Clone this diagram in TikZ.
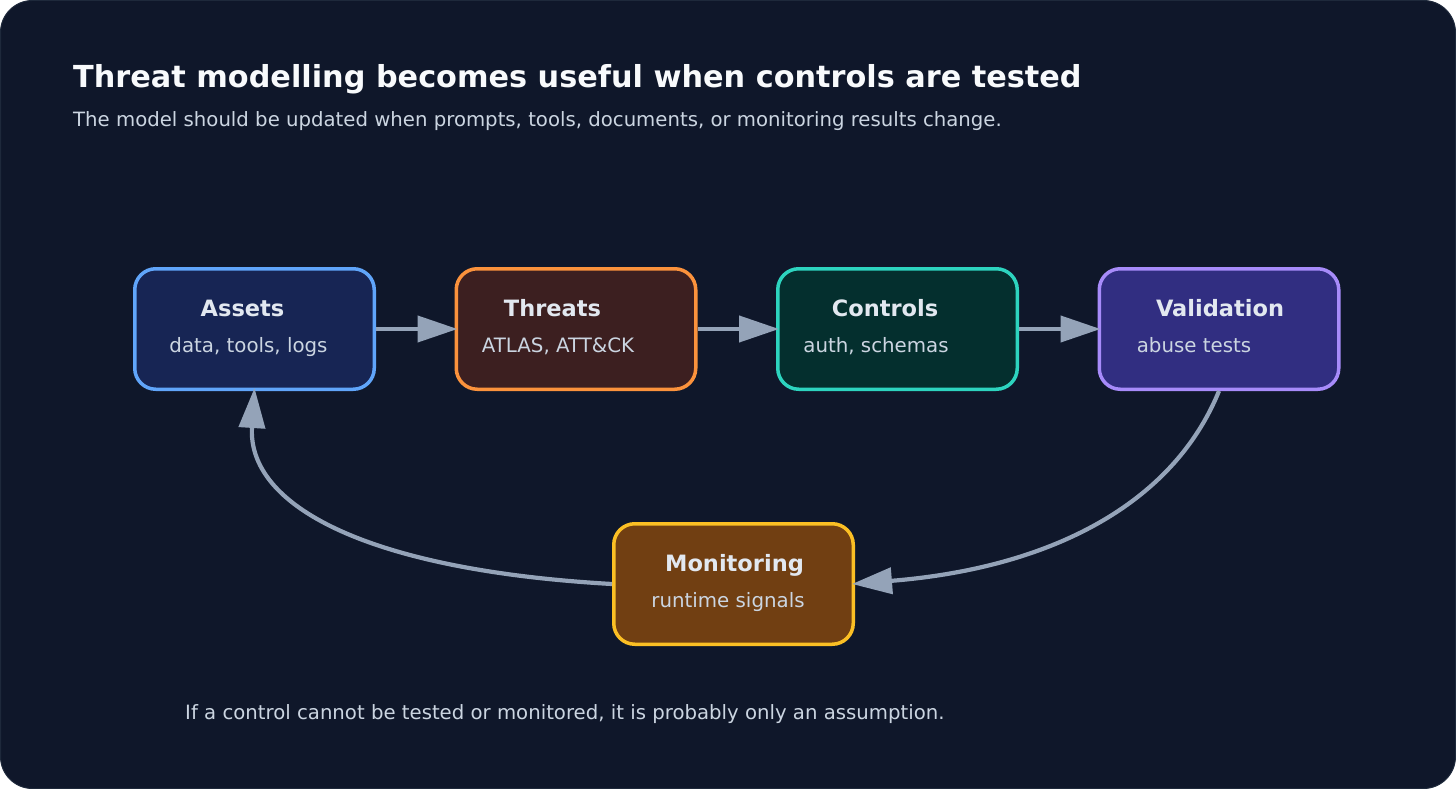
\documentclass[tikz,border=0pt]{standalone}
\usepackage{fontspec}
\setmainfont{DejaVu Sans}
\usetikzlibrary{arrows.meta}
\definecolor{bgc}{HTML}{0F172A}
\definecolor{bgedge}{HTML}{1E293B}
\definecolor{titlec}{HTML}{F8FAFC}
\definecolor{subc}{HTML}{CBD5E1}
\definecolor{ntitlec}{HTML}{E2E8F0}
\definecolor{arrowc}{HTML}{94A3B8}
\definecolor{bAssets}{HTML}{60A5FA}\definecolor{fAssets}{HTML}{172554}
\definecolor{bThreats}{HTML}{FB923C}\definecolor{fThreats}{HTML}{3C1F20}
\definecolor{bControls}{HTML}{2DD4BF}\definecolor{fControls}{HTML}{042F2E}
\definecolor{bValid}{HTML}{A78BFA}\definecolor{fValid}{HTML}{312E81}
\definecolor{bMon}{HTML}{FBBF24}\definecolor{fMon}{HTML}{713F12}
\tikzset{
  box/.style={rectangle, rounded corners=21pt, line width=3.5pt, minimum width=239.5pt, minimum height=120.5pt, inner sep=0pt},
  boxtitle/.style={anchor=base, inner sep=0pt, text=ntitlec, font=\fontsize{22.5pt}{27pt}\selectfont\bfseries},
  boxsub/.style={anchor=base, inner sep=0pt, text=subc, font=\fontsize{19.8pt}{24pt}\selectfont},
  flow/.style={draw=arrowc, line width=4.2pt, -{Triangle[length=40pt,width=26pt]}},
}
\begin{document}
\begin{tikzpicture}[x=1pt, y=-1pt]
\useasboundingbox (0,0) rectangle (1456,789);
\fill[bgc, draw=bgedge, line width=1pt, rounded corners=32pt] (0.5,0.5) rectangle (1455.5,788.5);

\node[anchor=base west, inner sep=0pt, text=titlec, font=\fontsize{30.3pt}{36pt}\selectfont\bfseries] (title) at (73,88) {Threat modelling becomes useful when controls are tested};
\node[anchor=base west, inner sep=0pt, text=subc, font=\fontsize{19.7pt}{24pt}\selectfont] (subtitle) at (73,127) {The model should be updated when prompts, tools, documents, or monitoring results change.};

\node[box, draw=bAssets, fill=fAssets] (a) at (254.5,329) {};
\node[box, draw=bThreats, fill=fThreats] (t) at (576,329) {};
\node[box, draw=bControls, fill=fControls] (c) at (897.5,329) {};
\node[box, draw=bValid, fill=fValid] (v) at (1219,329) {};
\node[box, draw=bMon, fill=fMon] (m) at (733.5,584) {};

\node[boxtitle] (at) at (242.5,316) {Assets};
\node[boxsub] (as) at (248.5,352) {data, tools, logs};
\node[boxtitle] (tt) at (552.5,316) {Threats};
\node[boxsub] (ts) at (558,352) {ATLAS, ATT\&CK};
\node[boxtitle] (ct) at (885,316) {Controls};
\node[boxsub] (cs) at (876,352) {auth, schemas};
\node[boxtitle] (vt) at (1220,316) {Validation};
\node[boxsub] (vs) at (1194,352) {abuse tests};
\node[boxtitle] (mt) at (734.5,571) {Monitoring};
\node[boxsub] (ms) at (728,607) {runtime signals};

\draw[flow] (a.east) -- ([xshift=3pt]t.west);
\draw[flow] (t.east) -- ([xshift=3pt]c.west);
\draw[flow] (c.east) -- ([xshift=3pt]v.west);
\draw[flow] (v.south) .. controls (1173,504) and (1051,568) .. ([xshift=-3pt]m.east);
\draw[flow] (m.west) .. controls (365,570) and (247,505) .. ([yshift=3pt]a.south);

\node[anchor=base west, inner sep=0pt, text=subc, font=\fontsize{19.7pt}{24pt}\selectfont] (foot) at (185,719) {If a control cannot be tested or monitored, it is probably only an assumption.};
\end{tikzpicture}
\end{document}
